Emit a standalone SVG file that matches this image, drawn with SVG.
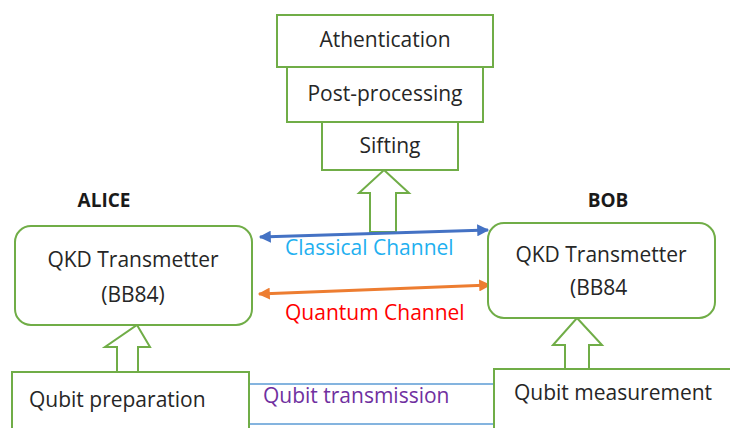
<svg xmlns="http://www.w3.org/2000/svg" width="730" height="428" viewBox="0 0 730 428">
<defs>
<style>
.box{fill:#fff;stroke:#70AD47;stroke-width:2}
.t{font-family:"Open Sans","Liberation Sans",sans-serif;font-size:21px;fill:#262626}
.b{font-family:"Open Sans","Liberation Sans",sans-serif;font-size:19px;font-weight:bold;fill:#1a1a1a}
.c{font-family:"Open Sans","Liberation Sans",sans-serif;font-size:21px}
.blk{fill:#fff;stroke:#70AD47;stroke-width:2;stroke-linejoin:miter}
</style>
<marker id="ab" viewBox="0 0 10 10" refX="9" refY="5" markerWidth="4.5" markerHeight="4" orient="auto-start-reverse" markerUnits="strokeWidth"><path d="M0,0 L10,5 L0,10 z" fill="#4472C4"/></marker>
<marker id="ao" viewBox="0 0 10 10" refX="9" refY="5" markerWidth="4.5" markerHeight="4" orient="auto-start-reverse" markerUnits="strokeWidth"><path d="M0,0 L10,5 L0,10 z" fill="#ED7D31"/></marker>
</defs>
<rect width="730" height="428" fill="#fff"/>
<g id="connectors">
<path class="blk" d="M384,170 L409,193 L396,193 L396,232 L370,232 L370,193 L359,193 Z"/>
<path class="blk" d="M137,325 L150,347 L138,347 L138,372 L117,372 L117,347 L105,347 Z"/>
<path class="blk" d="M577,318 L602,345 L589,345 L589,369 L565,369 L565,345 L553,345 Z"/>
<line x1="260" y1="237" x2="488" y2="230" stroke="#4472C4" stroke-width="3" marker-start="url(#ab)" marker-end="url(#ab)"/>
<line x1="259" y1="294" x2="490" y2="285" stroke="#ED7D31" stroke-width="3" marker-start="url(#ao)" marker-end="url(#ao)"/>
<line x1="249" y1="384" x2="494" y2="384" stroke="#5B9BD5" stroke-width="1.5"/>
<line x1="249" y1="424" x2="494" y2="424" stroke="#5B9BD5" stroke-width="1.5"/>
<text class="c" x="285" y="255" fill="#1FB0F0">Classical Channel</text>
<text class="c" x="285" y="320" fill="#FF0000">Quantum Channel</text>
<text class="c" x="263" y="403" fill="#7030A0">Qubit transmission</text>
</g>
<g id="athentication"><rect class="box" x="277" y="15" width="216" height="52"/><text class="t" x="385" y="47" text-anchor="middle">Athentication</text></g>
<g id="postprocessing"><rect class="box" x="287" y="67" width="196" height="55"/><text class="t" x="385" y="101" text-anchor="middle">Post-processing</text></g>
<g id="sifting"><rect class="box" x="322" y="122" width="136" height="48"/><text class="t" x="390" y="153" text-anchor="middle">Sifting</text></g>
<g id="alice"><text class="b" x="104" y="207" text-anchor="middle">ALICE</text><rect class="box" x="15" y="226" width="237" height="99" rx="16"/><text class="t" x="133" y="267" text-anchor="middle">QKD Transmetter</text><text class="t" x="133" y="302" text-anchor="middle">(BB84)</text></g>
<g id="bob"><text class="b" x="608" y="207" text-anchor="middle">BOB</text><rect class="box" x="488" y="223" width="227" height="95" rx="16"/><text class="t" x="601" y="262" text-anchor="middle">QKD Transmetter</text><text class="t" x="570" y="295">(BB84</text></g>
<g id="qubitprep"><rect class="box" x="12" y="372" width="237" height="70"/><text class="t" x="29" y="407">Qubit preparation</text></g>
<g id="qubitmeas"><rect class="box" x="494" y="369" width="250" height="70"/><text class="t" x="514" y="400">Qubit measurement</text></g>
</svg>
